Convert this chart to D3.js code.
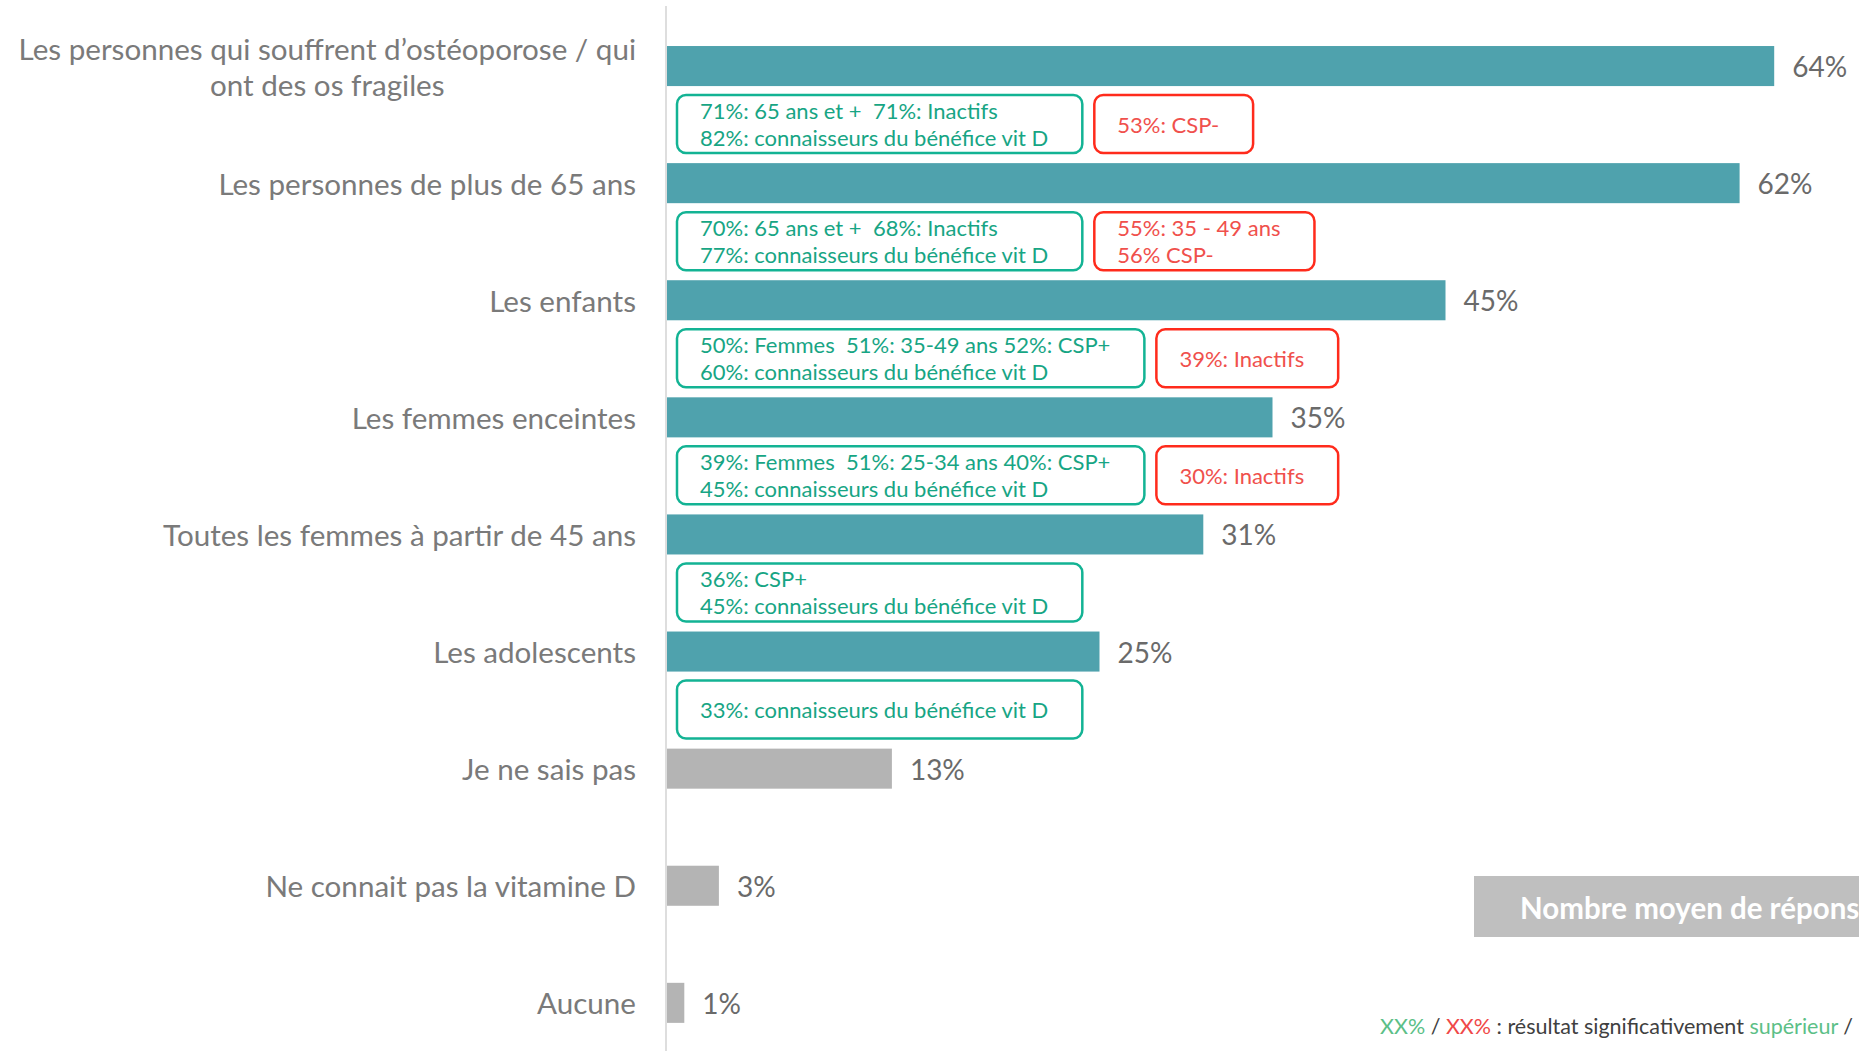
<!DOCTYPE html>
<html lang="fr">
<head>
<meta charset="utf-8">
<script src="https://cdn.jsdelivr.net/npm/d3@7"></script>
<style>
  html, body { margin: 0; padding: 0; background: #ffffff; overflow: hidden; }
  svg { display: block; font-family: Lato, "Noto Sans", sans-serif; }
  svg text { white-space: pre; }
</style>
</head>
<body>
<svg id="chart" width="1859" height="1051"></svg>
<script>
// Réponses : pour qui la vitamine D est-elle importante ?
const categories = [
  "Les personnes qui souffrent d’ostéoporose / qui ont des os fragiles",
  "Les personnes de plus de 65 ans",
  "Les enfants",
  "Les femmes enceintes",
  "Toutes les femmes à partir de 45 ans",
  "Les adolescents",
  "Je ne sais pas",
  "Ne connait pas la vitamine D",
  "Aucune"
];
const values = [64, 62, 45, 35, 31, 25, 13, 3, 1];
// "cible" = population citée, "autre" = non-réponses
const groups = ["cible", "cible", "cible", "cible", "cible", "cible", "autre", "autre", "autre"];

// Libellé sur deux lignes pour la première catégorie
const labelLines = [
  ["Les personnes qui souffrent d’ostéoporose / qui", "ont des os fragiles"],
  null, null, null, null, null, null, null, null
];

// Sous-populations significativement au-dessus (vert) / en dessous (rouge)
const notesHigh = [
  ["71%: 65 ans et +  71%: Inactifs", "82%: connaisseurs du bénéfice vit D"],
  ["70%: 65 ans et +  68%: Inactifs", "77%: connaisseurs du bénéfice vit D"],
  ["50%: Femmes  51%: 35-49 ans 52%: CSP+", "60%: connaisseurs du bénéfice vit D"],
  ["39%: Femmes  51%: 25-34 ans 40%: CSP+", "45%: connaisseurs du bénéfice vit D"],
  ["36%: CSP+", "45%: connaisseurs du bénéfice vit D"],
  ["33%: connaisseurs du bénéfice vit D"],
  null, null, null
];
const notesLow = [
  ["53%: CSP-"],
  ["55%: 35 - 49 ans", "56% CSP-"],
  ["39%: Inactifs"],
  ["30%: Inactifs"],
  null, null, null, null, null
];

const boxTitle = "Nombre moyen de réponses";
const legendParts = [
  { text: "XX%", kind: "high" },
  { text: " / ", kind: "plain" },
  { text: "XX%", kind: "low" },
  { text: " : résultat significativement ", kind: "plain" },
  { text: "supérieur", kind: "high" },
  { text: " / ", kind: "plain" },
  { text: "inférieur", kind: "low" }
];

const colors = {
  cible: "#4fa2ad",
  autre: "#b4b4b4",
  label: "#7a7a7a",
  value: "#6a6a6a",
  highStroke: "#13b394",
  highText: "#17a584",
  lowStroke: "#ff2b1c",
  lowText: "#f0504c",
  legendHigh: "#5cbf87",
  legendLow: "#f04848",
  legendText: "#404040",
  axis: "#dedede",
  grayBox: "#bfbfbf"
};

const svg = d3.select("#chart");
const W = 1859, H = 1051;

const x = d3.scaleLinear().domain([0, 100]).range([667, 667 + 1730]);
const y = d3.scaleBand()
  .domain(categories)
  .range([7.5, 7.5 + 9 * 117.1])
  .paddingInner(0.658)
  .paddingOuter(0.329);

// Axe vertical (ligne de base des barres)
svg.append("line")
  .attr("x1", 666).attr("x2", 666)
  .attr("y1", 6).attr("y2", H)
  .attr("stroke", colors.axis)
  .attr("stroke-width", 2);

// Barres
svg.append("g").selectAll("rect")
  .data(categories)
  .join("rect")
  .attr("x", x(0))
  .attr("y", d => y(d))
  .attr("width", (d, i) => x(values[i]) - x(0))
  .attr("height", y.bandwidth())
  .attr("fill", (d, i) => colors[groups[i]]);

// Valeurs
svg.append("g").selectAll("text")
  .data(categories)
  .join("text")
  .attr("x", (d, i) => x(values[i]) + 18)
  .attr("y", d => y(d) + y.bandwidth() / 2)
  .attr("dominant-baseline", "central")
  .attr("font-size", 28)
  .attr("fill", colors.value)
  .text((d, i) => values[i] + "%");

// Libellés des catégories
const labels = svg.append("g").selectAll("text")
  .data(categories)
  .join("text")
  .attr("y", d => y(d) + y.bandwidth() / 2)
  .attr("dominant-baseline", "central")
  .attr("font-size", 29.6)
  .attr("fill", colors.label);

labels.each(function (d, i) {
  const t = d3.select(this);
  const lines = labelLines[i];
  if (!lines) {
    t.attr("x", 636).attr("text-anchor", "end").text(d);
    return;
  }
  // bloc centré, aligné à droite sur la colonne des libellés
  t.attr("text-anchor", "middle");
  const tmp = t.append("tspan").text(lines[0]);
  const w = tmp.node().getComputedTextLength();
  tmp.remove();
  const cx = 636 - w / 2;
  const lh = 36;
  lines.forEach((ln, k) => {
    t.append("tspan")
      .attr("x", cx)
      .attr("dy", k === 0 ? -lh / 2 : lh)
      .text(ln);
  });
});

// Encadrés des sous-populations
const notes = svg.append("g");
const boxH = 58;
const padL = 23, padR = 34;

categories.forEach((cat, i) => {
  const top = y(cat) + y.bandwidth() + 9;
  let left = x(0) + 10;
  [[notesHigh[i], "high"], [notesLow[i], "low"]].forEach(([lines, kind]) => {
    if (!lines) return;
    const g = notes.append("g");
    const rect = g.append("rect");
    const n = lines.length;
    let maxW = 0;
    lines.forEach((ln, k) => {
      const t = g.append("text")
        .attr("x", left + padL)
        .attr("y", top + 29 + (k - (n - 1) / 2) * 27)
        .attr("dominant-baseline", "central")
        .attr("font-size", 22)
        .attr("fill", kind === "high" ? colors.highText : colors.lowText)
        .text(ln);
      maxW = Math.max(maxW, t.node().getComputedTextLength());
    });
    const bw = maxW + padL + padR;
    rect.attr("x", left).attr("y", top)
      .attr("width", bw).attr("height", boxH)
      .attr("rx", 9).attr("ry", 9)
      .attr("fill", "#ffffff")
      .attr("stroke", kind === "high" ? colors.highStroke : colors.lowStroke)
      .attr("stroke-width", 2.5);
    left += bw + 12;
  });
});

// Encadré gris
svg.append("rect")
  .attr("x", 1474).attr("y", 876)
  .attr("width", 500).attr("height", 61)
  .attr("fill", colors.grayBox);
svg.append("text")
  .attr("x", 1520).attr("y", 907)
  .attr("dominant-baseline", "central")
  .attr("font-size", 29.5)
  .attr("font-weight", 700)
  .attr("fill", "#ffffff")
  .text(boxTitle);

// Légende
const legend = svg.append("text")
  .attr("x", 1380).attr("y", 1034)
  .attr("font-size", 21.5);
legend.selectAll("tspan")
  .data(legendParts)
  .join("tspan")
  .attr("fill", d => d.kind === "high" ? colors.legendHigh : d.kind === "low" ? colors.legendLow : colors.legendText)
  .text(d => d.text);
</script>
</body>
</html>
